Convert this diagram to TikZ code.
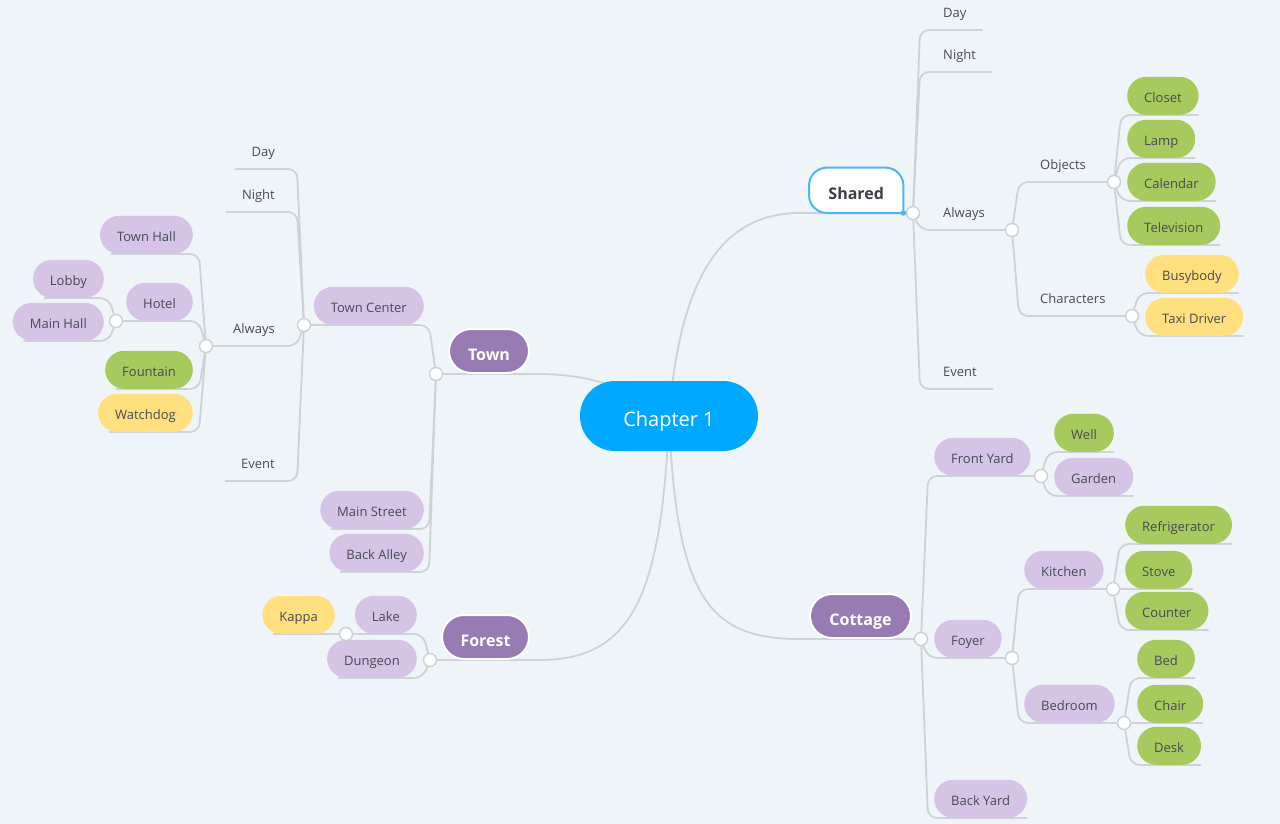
\documentclass[tikz,border=0pt]{standalone}
\usepackage{fontspec}
\setmainfont{Open Sans}
\usetikzlibrary{calc,backgrounds}
\definecolor{bgc}{RGB}{239,244,248}
\definecolor{lnc}{RGB}{205,210,215}
\definecolor{rootc}{RGB}{0,168,255}
\definecolor{mainc}{RGB}{152,123,178}
\definecolor{lavc}{RGB}{213,196,229}
\definecolor{grnc}{RGB}{166,202,93}
\definecolor{yelc}{RGB}{255,223,126}
\definecolor{shbc}{RGB}{75,183,245}
\definecolor{txtc}{RGB}{72,74,84}
\newcommand\rleaf[2]{\draw[ln] (#1.center) -- ($(#1.center |- #2.south)+(7,0)$) -- (#2.south east);}
\newcommand\rsub[2]{\draw[ln] (#1.center) -- ($(#1.center |- #2.center)+(7,0)$) -- (#2.center);}
\newcommand\lleaf[2]{\draw[ln] (#1.center) -- ($(#1.center |- #2.south)+(-7,0)$) -- ($(#2.south west)+(11,0)$);}
\newcommand\llab[2]{\draw[ln] (#1.center) -- ($(#1.center |- #2.south)+(-7,0)$) -- (#2.south west);}
\newcommand\lsub[2]{\draw[ln] (#1.center) -- ($(#1.center |- #2.center)+(-7,0)$) -- (#2.center);}
\tikzset{
 ln/.style={draw=lnc, line width=1.8pt, rounded corners=9pt},
 cdot/.style={circle, draw=lnc, fill=white, line width=1.5pt, minimum size=13pt, inner sep=0pt},
 leaf/.style={rectangle, rounded corners=19pt, minimum height=38pt, inner xsep=17pt, inner ysep=0pt, text height=16.5pt, text depth=2.5pt, text=txtc, font=\fontsize{13}{16}\selectfont},
 lav/.style={leaf, fill=lavc},
 grn/.style={leaf, fill=grnc},
 yel/.style={leaf, fill=yelc},
 lab/.style={leaf, inner xsep=16pt},
 mainn/.style={rectangle, rounded corners=22pt, minimum height=44pt, fill=mainc, draw=white, line width=2pt, text=white, font=\bfseries\fontsize{16}{19}\selectfont, inner xsep=0pt, inner ysep=0pt, text height=19.5pt, text depth=0pt},
 rootn/.style={rectangle, rounded corners=35pt, minimum height=70pt, minimum width=178pt, inner ysep=0pt, text height=21.5pt, text depth=0pt, fill=rootc, text=white, font=\fontsize{20}{24}\selectfont},
 shn/.style={rectangle, minimum height=45pt, minimum width=94pt, inner xsep=0pt, inner ysep=0pt, text height=19pt, text depth=0pt, text=txtc!85!black, font=\bfseries\fontsize{16}{19}\selectfont},
}
\begin{document}
\begin{tikzpicture}[x=1pt,y=-1pt]
\useasboundingbox (0,0) rectangle (1280,824);
% root
\node[rootn] (ch) at (669,416) {Chapter 1};
% ---------- Shared ----------
\node[shn, anchor=south west] (sh) at (809,213) {Shared};
\node[cdot] (shc) at (913,213) {};
\node[lab, anchor=south west] (sd) at (927,30) {Day};
\node[lab, anchor=south west] (sn) at (927,72) {Night};
\node[lab, anchor=south west] (sa) at (927,230) {Always};
\node[lab, anchor=south west] (se) at (927,389) {Event};
\node[cdot] (sac) at (1012,230) {};
\node[lab, anchor=south west] (so) at (1024,182) {Objects};
\node[lab, anchor=south west] (sch) at (1024,316) {Characters};
\node[cdot] (socc) at (1114,182) {};
\node[cdot] (schc) at (1132,316) {};
\node[grn, anchor=south west] (cl) at (1127,115) {Closet};
\node[grn, anchor=south west] (lp) at (1127,158) {Lamp};
\node[grn, anchor=south west] (ca) at (1127,201) {Calendar};
\node[grn, anchor=south west] (tv) at (1127,245) {Television};
\node[yel, anchor=south west] (bb) at (1145,293) {Busybody};
\node[yel, anchor=south west] (tx) at (1145,336) {Taxi Driver};
% ---------- Cottage ----------
\node[mainn, minimum width=101pt, anchor=south west] (co) at (809,639) {Cottage};
\node[cdot] (coc) at (921,639) {};
\node[lav, anchor=south west] (fy) at (934,476) {Front Yard};
\node[lav, anchor=south west] (fo) at (934,658) {Foyer};
\node[lav, anchor=south west] (by) at (934,818) {Back Yard};
\node[cdot] (fyc) at (1041,476) {};
\node[cdot] (foc) at (1012,658) {};
\node[grn, anchor=south west] (wl) at (1054,452) {Well};
\node[lav, anchor=south west] (gd) at (1054,496) {Garden};
\node[lav, anchor=south west] (kt) at (1024,589) {Kitchen};
\node[lav, anchor=south west] (br) at (1024,723) {Bedroom};
\node[cdot] (ktc) at (1113,589) {};
\node[cdot] (brc) at (1124,723) {};
\node[grn, anchor=south west] (rf) at (1125,544) {Refrigerator};
\node[grn, anchor=south west] (sv) at (1125,589) {Stove};
\node[grn, anchor=south west] (cn) at (1125,630) {Counter};
\node[grn, anchor=south west] (bd) at (1137,678) {Bed};
\node[grn, anchor=south west] (chr) at (1137,723) {Chair};
\node[grn, anchor=south west] (dk) at (1137,765) {Desk};
% ---------- Town ----------
\node[mainn, minimum width=80pt, anchor=south west] (tw) at (448,374) {Town};
\node[cdot] (twc) at (436,374) {};
\node[lav, anchor=south east] (tc) at (424,325) {Town Center};
\node[lav, anchor=south east] (ms) at (424,529) {Main Street};
\node[lav, anchor=south east] (ba) at (424,572) {Back Alley};
\node[cdot] (tcc) at (304,325) {};
\node[lab, anchor=south east] (tdy) at (291,169) {Day};
\node[lab, anchor=south east] (tnt) at (291,212) {Night};
\node[lab, anchor=south east] (tal) at (291,346) {Always};
\node[lab, anchor=south east] (tev) at (291,481) {Event};
\node[cdot] (talc) at (206,346) {};
\node[lav, anchor=south east] (th) at (193,254) {Town Hall};
\node[lav, anchor=south east] (ho) at (193,321) {Hotel};
\node[grn, anchor=south east] (fn) at (193,389) {Fountain};
\node[yel, anchor=south east] (wd) at (193,432) {Watchdog};
\node[cdot] (hoc) at (116,321) {};
\node[lav, anchor=south east] (lb) at (104,298) {Lobby};
\node[lav, anchor=south east] (mh) at (104,341) {Main Hall};
% ---------- Forest ----------
\node[mainn, minimum width=87pt, anchor=south west] (fr) at (441,660) {Forest};
\node[cdot] (frc) at (430,660) {};
\node[lav, anchor=south east] (lk) at (417,634) {Lake};
\node[lav, anchor=south east] (dg) at (417,678) {Dungeon};
\node[cdot] (lkc) at (346,634) {};
\node[yel, anchor=south east] (kp) at (335,634) {Kappa};
% blue selection dot
\fill[shbc] (sh.south east) circle (2.8);
% ---------- connectors ----------
\begin{scope}[on background layer]
\fill[bgc] (0,0) rectangle (1280,824);
% main branches
\draw[ln] (ch.center) .. controls (680,280) and (720,213) .. (sh.south west) -- (shc.center);
\draw[ln] (ch.center) .. controls (640,395) and (600,374) .. (tw.south east) -- (twc.center);
\draw[ln] (ch.center) .. controls (662,600) and (630,660) .. (fr.south east) -- (frc.center);
\draw[ln] (ch.center) .. controls (676,600) and (710,639) .. (co.south west) -- (coc.center);
% Shared
\rleaf{shc}{sd}
\rleaf{shc}{sn}
\rsub{shc}{sac}
\rleaf{shc}{se}
\rsub{sac}{socc}
\rsub{sac}{schc}
\rleaf{socc}{cl}
\rleaf{socc}{lp}
\rleaf{socc}{ca}
\rleaf{socc}{tv}
\rleaf{schc}{bb}
\rleaf{schc}{tx}
% Cottage
\rsub{coc}{fyc}
\rsub{coc}{foc}
\rleaf{coc}{by}
\rleaf{fyc}{wl}
\rleaf{fyc}{gd}
\rsub{foc}{ktc}
\rsub{foc}{brc}
\rleaf{ktc}{rf}
\rleaf{ktc}{sv}
\rleaf{ktc}{cn}
\rleaf{brc}{bd}
\rleaf{brc}{chr}
\rleaf{brc}{dk}
% Town
\lsub{twc}{tcc}
\lleaf{twc}{ms}
\lleaf{twc}{ba}
\llab{tcc}{tdy}
\llab{tcc}{tnt}
\lsub{tcc}{talc}
\llab{tcc}{tev}
\lleaf{talc}{th}
\lsub{talc}{hoc}
\lleaf{talc}{fn}
\lleaf{talc}{wd}
\lleaf{hoc}{lb}
\lleaf{hoc}{mh}
% Forest
\lsub{frc}{lkc}
\lleaf{frc}{dg}
\lleaf{lkc}{kp}
% Shared node frame
\path[fill=white, draw=shbc, line width=2pt, rounded corners=18pt, line cap=rect]
  (sh.south east) -- (sh.north east) -- (sh.north west) -- (sh.south west) -- (sh.south east);
\end{scope}
\end{tikzpicture}
\end{document}
